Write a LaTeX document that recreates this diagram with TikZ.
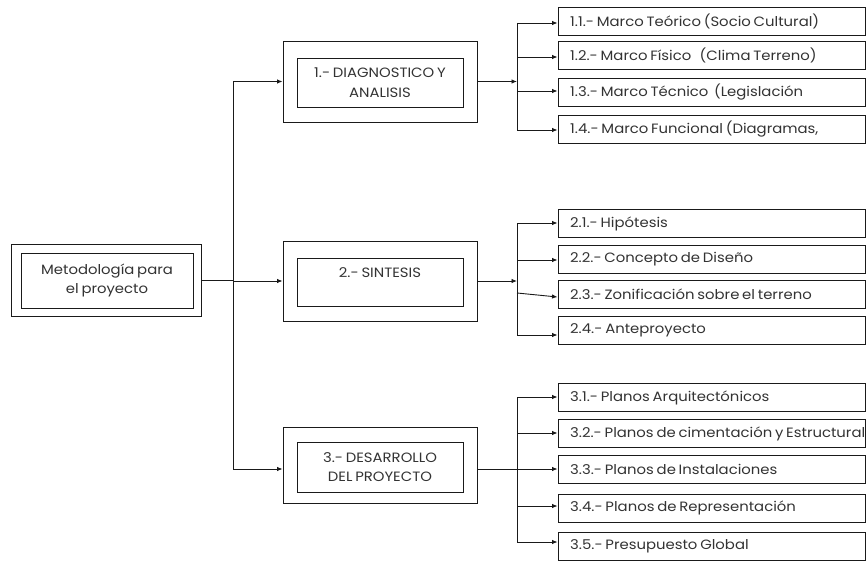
\documentclass[tikz,border=0pt]{standalone}
\usepackage{fontspec}
\setmainfont{Poppins}[FakeStretch=1.1,WordSpace=0.7]
\usetikzlibrary{arrows.meta}
\begin{document}
\begin{tikzpicture}[x=1pt,y=-1pt,
  every node/.style={font=\fontsize{13.5}{19.5}\selectfont\color{txt}},
  box/.style={draw=lin,line width=0.9pt,rectangle,inner sep=0pt},
  sub/.style={draw=lin,line width=0.9pt,rectangle,minimum width=307pt,minimum height=28pt,inner sep=0pt},
  lbl/.style={anchor=west,inner sep=0pt},
  conn/.style={draw=lin,line width=0.9pt},
  arr/.style={conn,-{Latex[length=5.5pt,width=4.5pt]}}]
\definecolor{txt}{HTML}{333333}
\definecolor{lin}{HTML}{1A1A1A}
\useasboundingbox (0,0) rectangle (866,561);
% left box
\node[box,minimum width=190pt,minimum height=72pt] (L) at (106,280) {};
\node[box,minimum width=172pt,minimum height=55pt,align=center] (Li) at (107,280.5) {Metodología para\\el proyecto};
% main boxes
\node[box,minimum width=194pt,minimum height=81pt] (B1) at (380,81.5) {};
\node[box,minimum width=166pt,minimum height=49pt,align=center] (B1i) at (380,82.5) {1.- DIAGNOSTICO Y\\ANALISIS};
\node[box,minimum width=194pt,minimum height=80pt] (B2) at (380,281) {};
\node[box,minimum width=166pt,minimum height=48pt] (B2i) at (380,282) {};
\node (B2t) at (380,273) {2.- SINTESIS};
\node[box,minimum width=194pt,minimum height=76pt] (B3) at (380,465) {};
\node[box,minimum width=166pt,minimum height=50pt,align=center] (B3i) at (380,467) {3.- DESARROLLO\\DEL PROYECTO};
% sub boxes group 1
\node[sub] (s11) at (711.5,21) {}; \node[lbl] (t11) at (570,21) {1.1.- Marco Teórico (Socio Cultural)};
\node[sub] (s12) at (711.5,55.5) {}; \node[lbl] (t12) at (570,55.5) {1.2.- Marco Físico \ \ (Clima Terreno)};
\node[sub] (s13) at (711.5,92) {}; \node[lbl] (t13) at (570,92) {1.3.- Marco Técnico \ (Legislación};
\node[sub] (s14) at (711.5,129) {}; \node[lbl] (t14) at (570,129) {1.4.- Marco Funcional (Diagramas,};
% group 2
\node[sub] (s21) at (711.5,223.5) {}; \node[lbl] (t21) at (570,223.5) {2.1.- Hipótesis};
\node[sub] (s22) at (711.5,259) {}; \node[lbl] (t22) at (570,259) {2.2.- Concepto de Diseño};
\node[sub] (s23) at (711.5,294) {}; \node[lbl] (t23) at (570,294) {2.3.- Zonificación sobre el terreno};
\node[sub] (s24) at (711.5,330) {}; \node[lbl] (t24) at (570,330) {2.4.- Anteproyecto};
% group 3
\node[sub] (s31) at (711.5,397.5) {}; \node[lbl] (t31) at (570,397.5) {3.1.- Planos Arquitectónicos};
\node[sub] (s32) at (711.5,433.5) {}; \node[lbl] (t32) at (570,433.5) {3.2.- Planos de cimentación y Estructural};
\node[sub] (s33) at (711.5,469) {}; \node[lbl] (t33) at (570,469) {3.3.- Planos de Instalaciones};
\node[sub] (s34) at (711.5,508) {}; \node[lbl] (t34) at (570,508) {3.4.- Planos de Representación};
\node[sub] (s35) at (711.5,546) {}; \node[lbl] (t35) at (570,546) {3.5.- Presupuesto Global};
% trunk
\coordinate (ta) at (233,81.5);
\coordinate (tb) at (233,469);
\coordinate (tm) at (233,281);
\draw[conn] (L.east) -- (L.east -| ta);
\draw[conn] (ta) -- (tb);
\draw[arr] (ta) -- (B1.west);
\draw[arr] (tm) -- (B2.west);
\draw[arr] (tb) -- (B1.west |- tb);
% group 1 connectors
\coordinate (g1a) at (517,23);
\coordinate (g1b) at (517,130);
\draw[arr] (B1.east) -- (B1.east -| g1a);
\draw[conn] (g1a) -- (g1b);
\draw[arr] (g1a) -- (s11.west |- g1a);
\draw[arr] (517,57) -- (s12.west |- 0,57);
\draw[arr] (517,91) -- (s13.west |- 0,91);
\draw[arr] (g1b) -- (s14.west |- g1b);
% group 2 connectors
\coordinate (g2a) at (517,223);
\coordinate (g2b) at (517,335);
\draw[arr] (B2.east) -- (B2.east -| g2a);
\draw[conn] (g2a) -- (g2b);
\draw[arr] (g2a) -- (s21.west |- g2a);
\draw[arr] (517,260) -- (s22.west |- 0,260);
\draw[arr] (517,293) -- (s23.west |- 0,297);
\draw[arr] (g2b) -- (s24.west |- g2b);
% group 3 connectors
\coordinate (g3a) at (517,397);
\coordinate (g3b) at (517,542);
\draw[conn] (g3a) -- (g3b);
\draw[arr] (B3.east |- 0,469) -- (s33.west);
\draw[arr] (g3a) -- (s31.west |- g3a);
\draw[arr] (517,433) -- (s32.west |- 0,433);
\draw[arr] (517,506) -- (s34.west |- 0,506);
\draw[arr] (g3b) -- (s35.west |- g3b);
\end{tikzpicture}
\end{document}
